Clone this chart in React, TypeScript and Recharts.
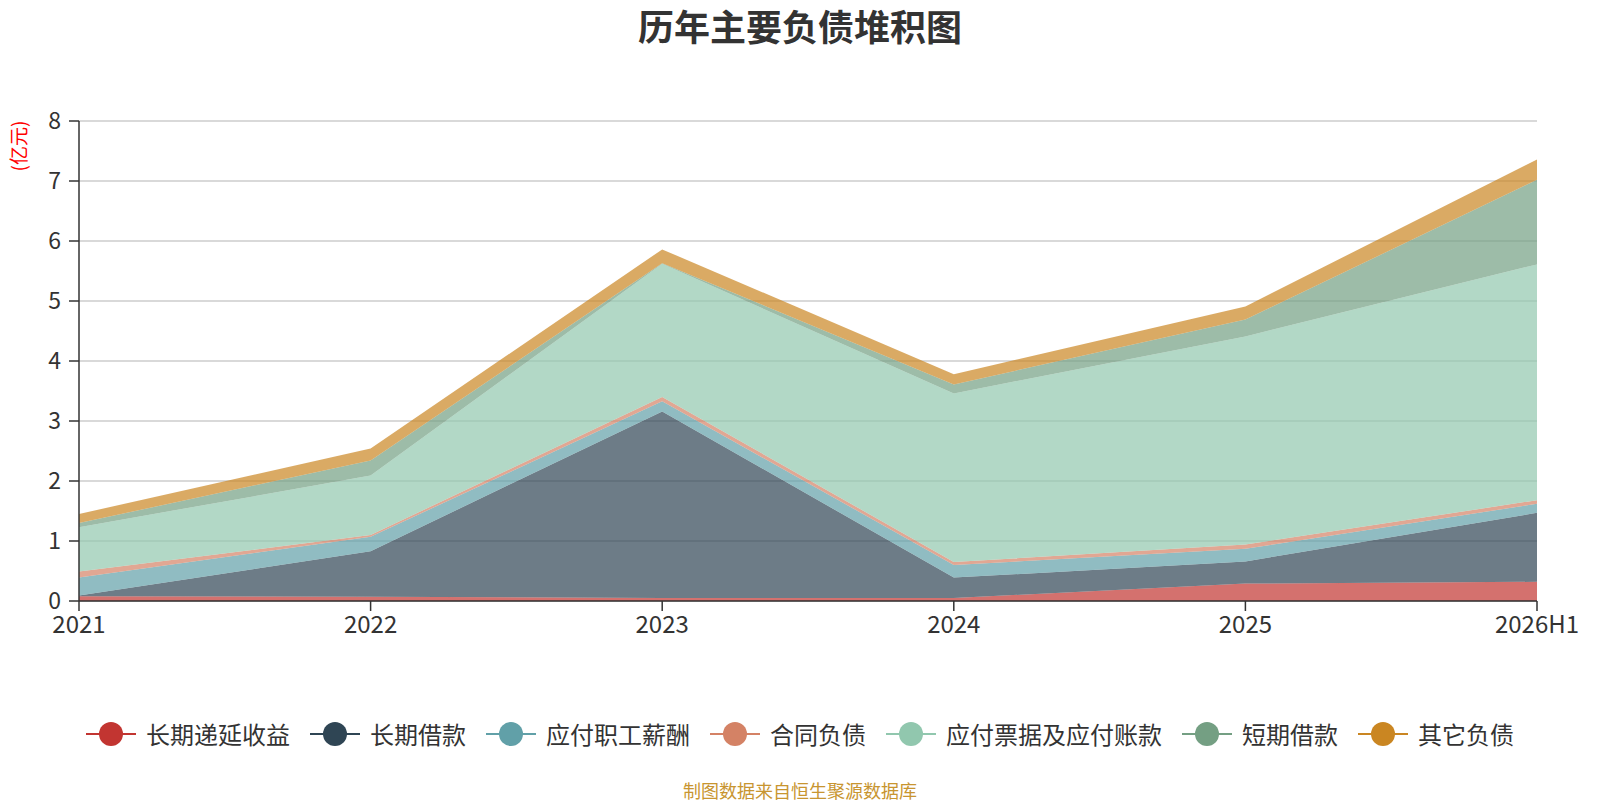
import React from "react";
import { AreaChart, Area, XAxis, YAxis, CartesianGrid } from "recharts";

// 单位：亿元
const years = ["2021", "2022", "2023", "2024", "2025", "2026H1"];
const deferredIncome = [0.08, 0.07, 0.05, 0.05, 0.29, 0.32];
const longLoan = [0.01, 0.76, 3.11, 0.34, 0.37, 1.15];
const payroll = [0.3, 0.24, 0.17, 0.21, 0.21, 0.15];
const contract = [0.1, 0.03, 0.07, 0.05, 0.07, 0.06];
const payables = [0.74, 0.99, 2.22, 2.81, 3.47, 3.93];
const shortLoan = [0.07, 0.25, 0.01, 0.15, 0.28, 1.41];
const other = [0.15, 0.2, 0.23, 0.17, 0.22, 0.34];
const yTicks = [0, 1, 2, 3, 4, 5, 6, 7, 8];

const series = [
  { key: "长期递延收益", values: deferredIncome, color: "#c23531" },
  { key: "长期借款", values: longLoan, color: "#2f4554" },
  { key: "应付职工薪酬", values: payroll, color: "#61a0a8" },
  { key: "合同负债", values: contract, color: "#d48265" },
  { key: "应付票据及应付账款", values: payables, color: "#91c7ae" },
  { key: "短期借款", values: shortLoan, color: "#749f83" },
  { key: "其它负债", values: other, color: "#ca8622" },
];

const chartData = years.map((year, i) => {
  const row: Record<string, number | string> = { year };
  series.forEach((s) => {
    row[s.key] = s.values[i];
  });
  return row;
});

const font = '"Noto Sans CJK SC", "Noto Sans", sans-serif';

export default function App() {
  return (
    <div
      style={{
        position: "absolute",
        left: 0,
        top: 0,
        width: 1600,
        height: 800,
        background: "#fff",
        fontFamily: font,
      }}
    >
      <div
        style={{
          position: "absolute",
          left: 0,
          top: 0,
          width: 1600,
          height: 50,
          lineHeight: "50px",
          textAlign: "center",
          fontSize: 36,
          fontWeight: "bold",
          color: "#333",
        }}
      >
        历年主要负债堆积图
      </div>
      <div
        style={{
          position: "absolute",
          left: 17,
          top: 146,
          transform: "translate(-50%, -50%) rotate(-90deg)",
          fontSize: 19,
          color: "#ff0000",
          whiteSpace: "nowrap",
        }}
      >
        (亿元)
      </div>
      <AreaChart
        width={1600}
        height={800}
        data={chartData}
        margin={{ top: 121, right: 63, bottom: 159, left: 19 }}
      >
        <CartesianGrid vertical={false} stroke="#ccc" strokeWidth={1.5} />
        <XAxis
          dataKey="year"
          interval={0}
          height={40}
          tickSize={10}
          tickMargin={5}
          axisLine={{ stroke: "#333", strokeWidth: 1.5 }}
          tickLine={{ stroke: "#333", strokeWidth: 1.5 }}
          tick={{ fill: "#333", fontSize: 24 }}
        />
        <YAxis
          domain={[0, 8]}
          ticks={yTicks}
          width={60}
          tickSize={10}
          tickMargin={8}
          axisLine={{ stroke: "#333", strokeWidth: 1.5 }}
          tickLine={{ stroke: "#333", strokeWidth: 1.5 }}
          tick={{ fill: "#333", fontSize: 23 }}
        />
        {series.map((s) => (
          <Area
            key={s.key}
            type="linear"
            dataKey={s.key}
            stackId="a"
            stroke="none"
            fill={s.color}
            fillOpacity={0.7}
            dot={false}
            activeDot={false}
            isAnimationActive={false}
          />
        ))}
      </AreaChart>
      <div
        style={{
          position: "absolute",
          left: 0,
          top: 714,
          width: 1600,
          height: 40,
          display: "flex",
          justifyContent: "center",
          alignItems: "center",
          gap: 20,
        }}
      >
        {series.map((s) => (
          <div key={s.key} style={{ display: "flex", alignItems: "center" }}>
            <svg width={50} height={26} style={{ marginRight: 10 }}>
              <line x1={0} y1={13} x2={50} y2={13} stroke={s.color} strokeWidth={2} />
              <circle cx={25} cy={13} r={12} fill={s.color} />
            </svg>
            <span style={{ fontSize: 24, color: "#333", lineHeight: "26px" }}>{s.key}</span>
          </div>
        ))}
      </div>
      <div
        style={{
          position: "absolute",
          left: 0,
          top: 778,
          width: 1600,
          height: 24,
          lineHeight: "24px",
          textAlign: "center",
          fontSize: 18,
          color: "#c89530",
        }}
      >
        制图数据来自恒生聚源数据库
      </div>
    </div>
  );
}
